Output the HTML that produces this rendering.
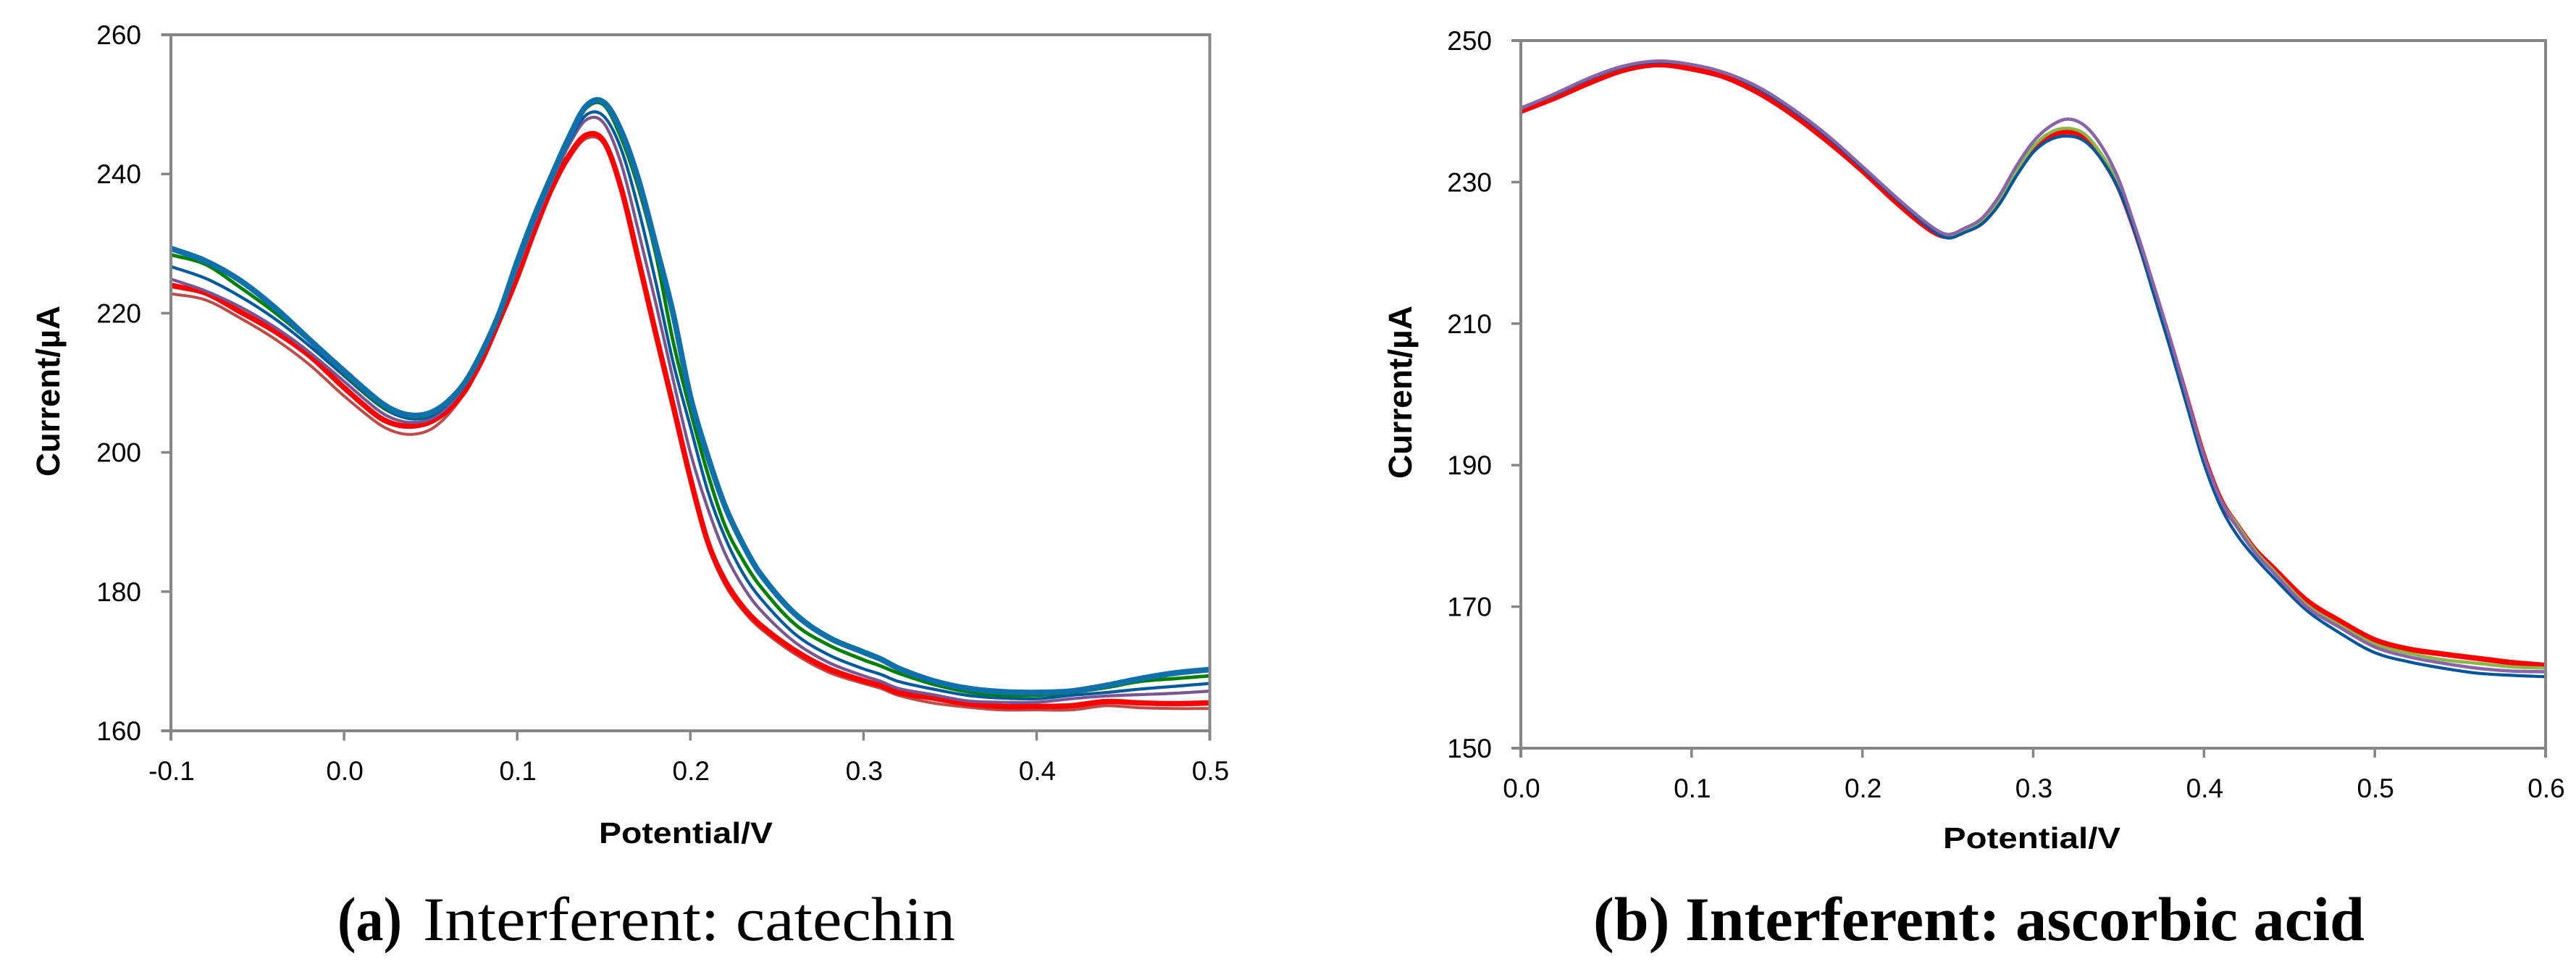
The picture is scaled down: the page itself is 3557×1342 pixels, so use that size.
<!DOCTYPE html>
<html lang="en">
<head>
<meta charset="utf-8">
<title>Interferent voltammograms</title>
<style>
html,body{margin:0;padding:0;background:#fff;}
svg{display:block;}
.tick{font-family:"Liberation Sans",sans-serif;font-size:37px;fill:#000;}
.axt{font-family:"Liberation Sans",sans-serif;font-size:41px;font-weight:bold;fill:#000;}
.axy{font-size:45px;}
.cap{font-family:"Liberation Serif",serif;font-size:86px;fill:#000;}
.capb{font-weight:bold;}
</style>
</head>
<body>
<svg id="figure" width="3557" height="1342" viewBox="0 0 3557 1342" xmlns="http://www.w3.org/2000/svg">
  <rect width="3557" height="1342" fill="#fff"/>
  <g id="panel-a"></g>
  <g id="panel-b"></g>
  <text class="axt" x="827" y="1164" textLength="240" lengthAdjust="spacingAndGlyphs">Potential/V</text>
  <text class="axt axy" transform="translate(82,658) rotate(-90)" textLength="236" lengthAdjust="spacingAndGlyphs">Current/µA</text>
  <text class="axt" x="2683" y="1171" textLength="245" lengthAdjust="spacingAndGlyphs">Potential/V</text>
  <text class="axt axy" transform="translate(1949,661) rotate(-90)" textLength="239" lengthAdjust="spacingAndGlyphs">Current/µA</text>
  <text class="cap capb" x="466" y="1298" textLength="89" lengthAdjust="spacingAndGlyphs">(a)</text>
  <text class="cap" x="584" y="1298" textLength="735" lengthAdjust="spacingAndGlyphs">Interferent: catechin</text>
  <text class="cap capb" x="2200" y="1298" textLength="1065" lengthAdjust="spacingAndGlyphs">(b) Interferent: ascorbic acid</text>
</svg>
<script>
// ---- Panel (a) data: catechin ----
const xTicksA = [-0.1, 0.0, 0.1, 0.2, 0.3, 0.4, 0.5];
const yTicksA = [160, 180, 200, 220, 240, 260];
const potentialA = [-0.1,-0.08,-0.06,-0.04,-0.02,0,0.02,0.03,0.04,0.05,0.06,0.07,0.08,0.09,0.1,0.11,0.12,0.13,0.14,0.15,0.16,0.17,0.18,0.19,0.2,0.21,0.22,0.23,0.24,0.26,0.28,0.3,0.31,0.32,0.34,0.36,0.38,0.4,0.42,0.44,0.46,0.48,0.5];
const brownA = [222.8,221.9,219.3,216.3,212.6,208.1,204.1,202.9,202.6,203.3,205.4,208.7,213.0,218.7,224.6,231.3,237.5,242.2,245.1,244.3,237.5,227.3,216.7,206.4,195.9,186.7,181.0,177.4,174.8,171.1,168.4,166.8,166.1,165.1,164.0,163.4,163.0,163.0,163.0,163.6,163.3,163.2,163.2];
const redA = [224.0,222.9,220.2,217.4,213.9,209.3,205.1,204.0,203.8,204.4,206.1,208.9,213.6,219.2,225.3,232.0,238.0,242.7,245.6,244.7,238.0,227.7,217.1,206.8,196.3,187.2,181.6,177.9,175.3,171.6,168.9,167.2,166.5,165.5,164.7,163.9,163.5,163.5,163.6,164.2,164.0,163.9,164.0];
const purpleA = [224.9,223.2,220.9,218.0,214.4,210.2,206.0,204.7,204.3,204.8,206.6,209.8,214.2,220.0,226.5,233.0,239.0,244.2,247.8,247.3,241.5,231.8,221.5,210.5,200.0,192.0,185.5,180.9,177.5,172.8,169.8,167.9,167.1,166.1,165.2,164.3,164.1,164.1,164.6,165.0,165.2,165.4,165.7];
const blueA = [226.7,225.0,222.4,219.2,215.3,211.0,206.8,205.4,204.8,205.2,207.0,210.0,214.4,220.1,226.9,233.4,239.4,244.7,248.5,248.3,243.6,235.0,224.5,213.0,203.7,194.5,187.8,182.8,179.2,174.0,170.9,168.9,168.1,167.1,166.0,165.1,164.7,164.6,165.1,165.5,166.0,166.4,166.8];
const greenA = [228.4,227.0,223.7,220.1,216.0,211.4,207.0,205.7,205.1,205.5,207.3,210.2,214.8,220.4,227.5,234.0,239.9,245.3,249.5,249.9,245.2,238.0,228.5,216.0,206.0,197.0,189.5,184.7,180.9,175.4,172.3,170.2,169.3,168.3,166.7,165.6,165.1,165.1,165.5,166.2,167.1,167.5,167.9];
const tealA = [229.3,227.5,224.7,220.8,216.2,211.7,207.4,205.9,205.3,205.7,207.3,210.1,214.6,220.2,227.4,234.0,239.8,245.3,249.8,250.3,246.2,239.2,229.8,220.0,208.0,199.5,192.3,187.0,182.7,176.9,173.4,171.3,170.3,169.0,167.2,166.1,165.6,165.5,165.7,166.5,167.5,168.3,168.8];

// ---- Panel (b) data: ascorbic acid ----
const xTicksB = [0.0, 0.1, 0.2, 0.3, 0.4, 0.5, 0.6];
const yTicksB = [150, 170, 190, 210, 230, 250];
const potentialB = [0,0.02,0.04,0.06,0.08,0.1,0.12,0.14,0.16,0.18,0.2,0.22,0.24,0.25,0.26,0.27,0.28,0.29,0.3,0.31,0.32,0.33,0.34,0.35,0.36,0.37,0.38,0.39,0.4,0.41,0.42,0.43,0.44,0.46,0.48,0.5,0.52,0.54,0.56,0.58,0.6];
const redB = [240.0,241.9,244.0,245.8,246.6,246.0,244.8,242.5,239.4,235.7,231.6,227.1,223.2,222.3,223.1,224.3,227.2,231.2,234.6,236.5,237.1,236.4,233.5,229.3,222.9,215.3,207.5,199.3,191.2,185.0,181.3,178.0,175.6,170.9,167.9,165.3,164.0,163.3,162.7,162.1,161.7];
const greenB = [240.5,242.4,244.6,246.3,247.1,246.6,245.4,243.3,240.2,236.5,232.2,227.8,223.6,222.4,223.2,224.5,227.6,231.6,235.0,237.0,237.6,236.8,233.9,229.6,223.0,215.5,207.7,199.4,191.2,185.0,181.4,177.9,175.3,170.3,167.3,164.7,163.4,162.5,162.0,161.5,161.3];
const purpleB = [240.4,242.5,244.7,246.4,247.1,246.6,245.4,243.3,240.2,236.5,232.2,227.8,223.8,222.6,223.5,224.9,228.0,232.2,235.7,237.9,238.9,238.0,235.1,230.4,223.4,215.8,208.0,199.6,191.3,185.0,181.0,177.6,175.0,170.0,167.0,164.3,162.9,162.0,161.3,160.9,160.8];
const blueB = [240.4,242.4,244.6,246.3,247.0,246.6,245.4,243.1,240.0,236.3,232.0,227.6,223.4,222.1,222.9,224.1,226.8,230.8,234.2,236.0,236.5,235.8,233.2,229.0,222.6,214.6,206.7,198.4,190.2,184.0,179.9,176.9,174.3,169.5,166.2,163.5,162.2,161.3,160.6,160.3,160.1];

const seriesA = [
  {name:'brown', values:brownA, color:'#BE4B48', width:4},
  {name:'red', values:redA, color:'#FF0000', width:7.5},
  {name:'purple', values:purpleA, color:'#7B5592', width:4.2},
  {name:'blue', values:blueA, color:'#005A9C', width:4.2},
  {name:'green', values:greenA, color:'#008000', width:4.8},
  {name:'teal', values:tealA, color:'#1070AA', width:8}
];
const seriesB = [
  {name:'red', values:redB, color:'#FF0000', width:7.5},
  {name:'green', values:greenB, color:'#8AB64A', width:4.5},
  {name:'blue', values:blueB, color:'#00569A', width:4.2},
  {name:'purple', values:purpleB, color:'#8A63A8', width:4.5}
];

const NS = 'http://www.w3.org/2000/svg';
const AXIS = '#868686';

function spline(xs, ys) {
  const n = xs.length;
  const m = [];
  for (let i = 0; i < n; i++) {
    const a = Math.max(i - 1, 0), b = Math.min(i + 1, n - 1);
    m.push((ys[b] - ys[a]) / (xs[b] - xs[a]));
  }
  let d = 'M' + xs[0].toFixed(2) + ' ' + ys[0].toFixed(2);
  for (let i = 0; i < n - 1; i++) {
    const h = (xs[i + 1] - xs[i]) / 3;
    d += 'C' + (xs[i] + h).toFixed(2) + ' ' + (ys[i] + m[i] * h).toFixed(2) + ' ' +
         (xs[i + 1] - h).toFixed(2) + ' ' + (ys[i + 1] - m[i + 1] * h).toFixed(2) + ' ' +
         xs[i + 1].toFixed(2) + ' ' + ys[i + 1].toFixed(2);
  }
  return d;
}

function line(parent, x1, y1, x2, y2, w, name) {
  const el = document.createElementNS(NS, 'line');
  el.setAttribute('x1', x1);
  el.setAttribute('y1', y1);
  el.setAttribute('x2', x2);
  el.setAttribute('y2', y2);
  el.setAttribute('stroke', AXIS);
  el.setAttribute('stroke-width', w);
  
  
  parent.appendChild(el);
}

function label(parent, x, y, anchor, str, name) {
  const el = document.createElementNS(NS, 'text');
  el.setAttribute('class', 'tick');
  el.setAttribute('x', x);
  el.setAttribute('y', y);
  el.setAttribute('text-anchor', anchor);
  el.textContent = str;
  
  
  parent.appendChild(el);
}

function drawPanel(id, box, xTicks, yTicks, xs, series) {
  const g = document.getElementById(id);
  const sx = v => box.left + (v - xTicks[0]) / (xTicks[xTicks.length - 1] - xTicks[0]) * (box.right - box.left);
  const sy = v => box.bottom - (v - yTicks[0]) / (yTicks[yTicks.length - 1] - yTicks[0]) * (box.bottom - box.top);

  series.forEach(s => {
    const p = document.createElementNS(NS, 'path');
    p.setAttribute('d', spline(xs.map(sx), s.values.map(sy)));
    p.setAttribute('fill', 'none');
    p.setAttribute('stroke', s.color);
    p.setAttribute('stroke-width', s.width);
    p.setAttribute('stroke-linejoin', 'round');
    
    
    g.appendChild(p);
  });

  line(g, box.left, box.top - 2, box.left, box.bottom + box.tick, 4, 'y-axis-line');
  line(g, box.right, box.top - 2, box.right, box.bottom + box.tick, 4, 'right-border-line');
  line(g, box.left - box.tick, box.top, box.right + 2, box.top, 4, 'top-border-line');
  line(g, box.left - box.tick, box.bottom, box.right + 2, box.bottom, 4, 'x-axis-line');

  yTicks.forEach(v => {
    line(g, box.left - box.tick, sy(v), box.left, sy(v), 3.5, 'y-tick');
    label(g, box.yLabelX, sy(v) + 13, 'end', String(v), 'y-tick-label');
  });
  xTicks.forEach(v => {
    line(g, sx(v), box.bottom, sx(v), box.bottom + box.tick, 3.5, 'x-tick');
    label(g, sx(v) + 1, box.xLabelY, 'middle', v.toFixed(1), 'x-tick-label');
  });
}

drawPanel('panel-a', {left:236, right:1670.5, top:48, bottom:1009, tick:13.5, yLabelX:195, xLabelY:1077}, xTicksA, yTicksA, potentialA, seriesA);
drawPanel('panel-b', {left:2100, right:3515, top:56, bottom:1033, tick:13, yLabelX:2060, xLabelY:1101}, xTicksB, yTicksB, potentialB, seriesB);
</script>
</body>
</html>
